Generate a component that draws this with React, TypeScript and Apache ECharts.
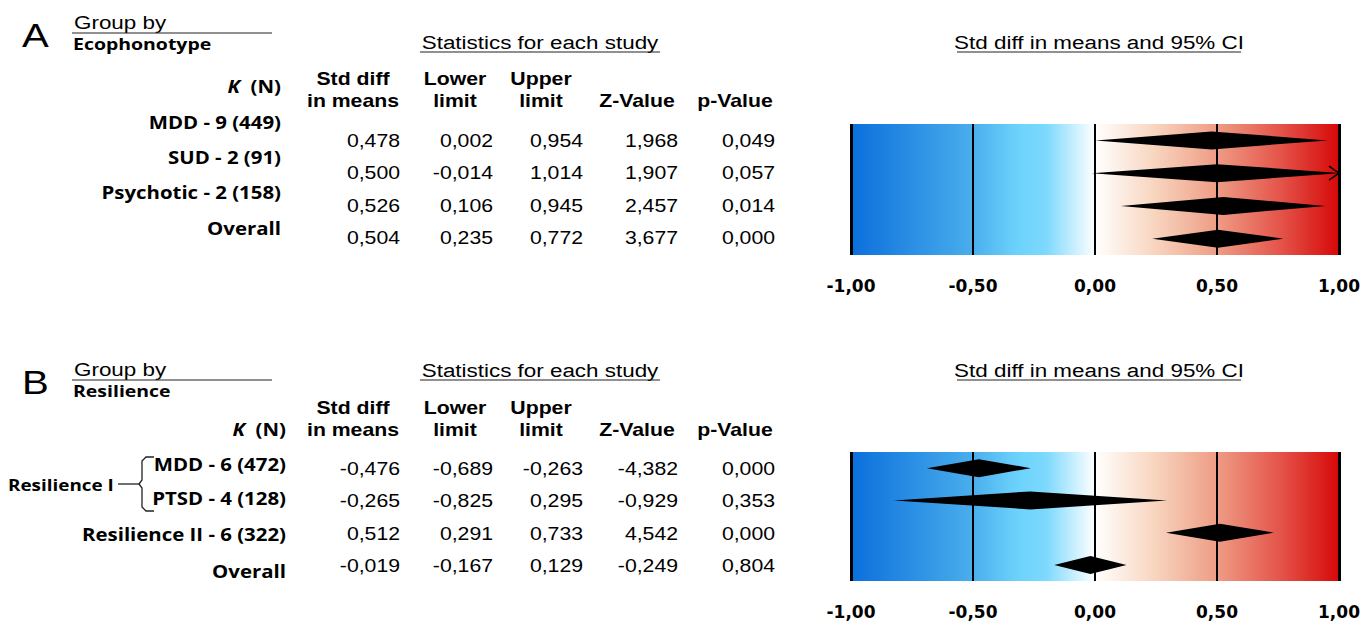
import React, { useEffect, useRef } from "react";
import * as echarts from "echarts";

// ---------- Data ----------
const columnHeaders = [["Std diff", "in means"], ["Lower", "limit"], ["Upper", "limit"], ["Z-Value"], ["p-Value"]];

const groupsA = ["MDD - 9 (449)", "SUD - 2 (91)", "Psychotic - 2 (158)", "Overall"];
const stdDiffA = [0.478, 0.5, 0.526, 0.504];
const lowerA = [0.002, -0.014, 0.106, 0.235];
const upperA = [0.954, 1.014, 0.945, 0.772];
const zA = [1.968, 1.907, 2.457, 3.677];
const pA = [0.049, 0.057, 0.014, 0.0];

const groupsB = ["MDD - 6 (472)", "PTSD - 4 (128)", "Resilience II - 6 (322)", "Overall"];
const stdDiffB = [-0.476, -0.265, 0.512, -0.019];
const lowerB = [-0.689, -0.825, 0.291, -0.167];
const upperB = [-0.263, 0.295, 0.733, 0.129];
const zB = [-4.382, -0.929, 4.542, -0.249];
const pB = [0.0, 0.353, 0.0, 0.804];

const xTicks = [-1, -0.5, 0, 0.5, 1];
const X_MIN = -1;
const X_MAX = 1;

// ---------- helpers ----------
const SX = 1.18;
const fmt3 = (v: number) => v.toFixed(3).replace(".", ",");
const fmt2 = (v: number) => v.toFixed(2).replace(".", ",");

function txt(text: string, x: number, y: number, o: any = {}) {
  const align = o.align || "left";
  return {
    type: "text",
    x,
    y,
    scaleX: o.scaleX ?? SX,
    z: 20,
    style: {
      text,
      fill: "#000",
      fontFamily: o.fontFamily || "Liberation Sans, Arial, sans-serif",
      fontSize: o.fontSize || 18,
      fontWeight: o.fontWeight || "normal",
      fontStyle: o.fontStyle || "normal",
      align,
      textAlign: align,
      verticalAlign: "middle",
      textVerticalAlign: "middle",
      rich: o.rich,
    },
  };
}

function hline(x1: number, x2: number, y: number, w = 1.2) {
  return { type: "line", z: 20, shape: { x1, y1: y, x2, y2: y }, style: { stroke: "#222", lineWidth: w } };
}

const labelFont = "Open Sans, Noto Sans, sans-serif";

function tableGraphics(
  letter: string,
  groupName: string,
  topY: number,
  titleY: number,
  headerY1: number,
  headerY2: number,
  groups: string[],
  groupYs: number[],
  labelRight: number,
  kY: number,
  cols: number[][],
  valueYs: number[]
) {
  const els: any[] = [];
  els.push(txt(letter, 22, topY + 13, { fontSize: 34 }));
  els.push(txt("Group by", 74, topY, { fontSize: 19 }));
  els.push(hline(72, 272, topY + 11));
  els.push(txt(groupName, 73, topY + 22, { fontSize: 16.5, fontWeight: "bold", fontFamily: labelFont }));
  els.push(txt("Statistics for each study", 540, titleY, { fontSize: 19, align: "center" }));
  els.push(hline(420, 660, titleY + 10));
  els.push(txt("Std diff in means and 95% CI", 1099, titleY, { fontSize: 19, align: "center" }));
  els.push(hline(957, 1241, titleY + 10));

  const headerX = [353, 455, 541, 637, 735];
  columnHeaders.forEach((h, i) => {
    if (h.length === 2) {
      els.push(txt(h[0], headerX[i], headerY1, { fontWeight: "bold", align: "center" }));
      els.push(txt(h[1], headerX[i], headerY2, { fontWeight: "bold", align: "center" }));
    } else {
      els.push(txt(h[0], headerX[i], headerY2, { fontWeight: "bold", align: "center" }));
    }
  });

  els.push(
    txt("{k|K}  {n|(N)}", labelRight, kY, {
      align: "right",
      fontWeight: "bold",
      fontFamily: labelFont,
      fontSize: 17,
      scaleX: 1.2,
      rich: {
        k: { fontStyle: "italic", fontWeight: "bold", fontFamily: labelFont, fontSize: 17, fill: "#000" },
        n: { fontWeight: "bold", fontFamily: labelFont, fontSize: 17, fill: "#000" },
      },
    })
  );
  groups.forEach((g, i) => {
    els.push(txt(g, labelRight, groupYs[i], { align: "right", fontWeight: "bold", fontFamily: labelFont, fontSize: 17, scaleX: 1.2 }));
  });

  const valueRight = [400, 493, 583, 678, 775];
  cols.forEach((col, c) => {
    col.forEach((v, r) => {
      els.push(txt(fmt3(v), valueRight[c], valueYs[r], { align: "right" }));
    });
  });
  return els;
}

const gradientStops = [
  { offset: 0, color: "#0b6fdc" },
  { offset: 0.25, color: "#4aaeed" },
  { offset: 0.34, color: "#6cd2fb" },
  { offset: 0.4, color: "#7dd9fd" },
  { offset: 0.5, color: "#ffffff" },
  { offset: 0.62, color: "#f8d6c0" },
  { offset: 0.75, color: "#ee9c85" },
  { offset: 0.88, color: "#e4544a" },
  { offset: 1, color: "#d60808" },
];

function gradientSeries(idx: number) {
  return {
    type: "custom",
    xAxisIndex: idx,
    yAxisIndex: idx,
    z: 1,
    silent: true,
    data: [[X_MIN, 0]],
    renderItem: (params: any, api: any) => {
      const cs = params.coordSys;
      const x0 = api.coord([X_MIN, 0])[0];
      const x1 = api.coord([X_MAX, 0])[0];
      return {
        type: "rect",
        shape: { x: x0, y: cs.y, width: x1 - x0, height: cs.height },
        style: { fill: new echarts.graphic.LinearGradient(0, 0, 1, 0, gradientStops) },
      };
    },
    markLine: {
      silent: true,
      symbol: ["none", "none"],
      label: { show: false },
      lineStyle: { color: "#000", type: "solid", width: 2 },
      data: xTicks.map((v) => ({ xAxis: v, lineStyle: { width: Math.abs(v) === 1 ? 3 : 2, color: "#000", type: "solid" } })),
    },
  };
}

function diamondSeries(idx: number, lo: number[], est: number[], hi: number[]) {
  return {
    type: "custom",
    xAxisIndex: idx,
    yAxisIndex: idx,
    z: 10,
    silent: true,
    encode: { x: [0, 1, 2], y: 3 },
    data: lo.map((l, i) => [l, est[i], hi[i], i]),
    renderItem: (params: any, api: any) => {
      const l = api.value(0);
      const e = api.value(1);
      const u = api.value(2);
      const row = api.value(3);
      const [xl, cy] = api.coord([l, row]);
      const xe = api.coord([e, row])[0];
      const xu = api.coord([u, row])[0];
      const xmin = api.coord([X_MIN, row])[0];
      const xmax = api.coord([X_MAX, row])[0];
      const h = 9;
      const pts: number[][] = [[xe, cy - h]];
      const children: any[] = [];
      if (xu > xmax) {
        const s = (xmax - xe) / (xu - xe);
        const o = h * (1 - s);
        pts.push([xmax, cy - o], [xmax, cy + o]);
        children.push({
          type: "polyline",
          shape: { points: [[xmax - 10, cy - 7], [xmax, cy], [xmax - 10, cy + 7]] },
          style: { stroke: "#000", lineWidth: 1.5, fill: "none" },
        });
      } else {
        pts.push([xu, cy]);
      }
      pts.push([xe, cy + h]);
      if (xl < xmin) {
        const s = (xe - xmin) / (xe - xl);
        const o = h * (1 - s);
        pts.push([xmin, cy + o], [xmin, cy - o]);
      } else {
        pts.push([xl, cy]);
      }
      children.unshift({ type: "polygon", shape: { points: pts }, style: { fill: "#000" } });
      return { type: "group", children };
    },
  };
}

export default function App() {
  const ref = useRef<HTMLDivElement>(null);
  useEffect(() => {
    if (!ref.current) return;
    const chart = echarts.init(ref.current, null, { renderer: "svg" });

    const xAxisBase = (gridIndex: number) => ({
      type: "value",
      gridIndex,
      min: X_MIN,
      max: X_MAX,
      interval: 0.5,
      axisLine: { show: false },
      axisTick: { show: false },
      splitLine: { show: false },
      axisLabel: {
        formatter: (v: number) => fmt2(v),
        fontFamily: "DejaVu Sans, sans-serif",
        fontWeight: "bold",
        fontSize: 17,
        color: "#000",
        margin: 22,
      },
    });
    const yAxisBase = (gridIndex: number, data: string[]) => ({
      type: "category",
      gridIndex,
      data,
      inverse: true,
      show: false,
    });

    const graphics = [
      ...tableGraphics("A", "Ecophonotype", 22, 42, 79, 101, groupsA, [122, 157, 192, 228], 281, 86,
        [stdDiffA, lowerA, upperA, zA, pA], [141, 173, 206, 238]),
      ...tableGraphics("B", "Resilience", 369, 370, 408, 430, groupsB, [464, 498, 534, 571], 286, 429,
        [stdDiffB, lowerB, upperB, zB, pB], [469, 501, 534, 566]),
      txt("Resilience I", 8, 485, { fontWeight: "bold", fontFamily: labelFont, fontSize: 16 }),
      hline(118, 139, 484, 1.3),
      {
        type: "polyline",
        z: 20,
        shape: {
          points: [[154, 457], [146, 457], [142, 461], [142, 480], [139, 484], [142, 488], [142, 507], [146, 511], [154, 511]],
        },
        style: { stroke: "#222", lineWidth: 1.3, fill: "none" },
      },
    ];

    chart.setOption({
      animation: false,
      backgroundColor: "#ffffff",
      grid: [
        { left: 851, top: 124, width: 488, height: 131 },
        { left: 851, top: 452, width: 488, height: 129 },
      ],
      xAxis: [xAxisBase(0), xAxisBase(1)],
      yAxis: [yAxisBase(0, groupsA), yAxisBase(1, groupsB)],
      series: [
        gradientSeries(0),
        gradientSeries(1),
        diamondSeries(0, lowerA, stdDiffA, upperA),
        diamondSeries(1, lowerB, stdDiffB, upperB),
      ],
      graphic: graphics,
    });
    return () => chart.dispose();
  }, []);
  return <div ref={ref} style={{ position: "fixed", left: 0, top: 0, width: 1371, height: 624, background: "#fff" }} />;
}
